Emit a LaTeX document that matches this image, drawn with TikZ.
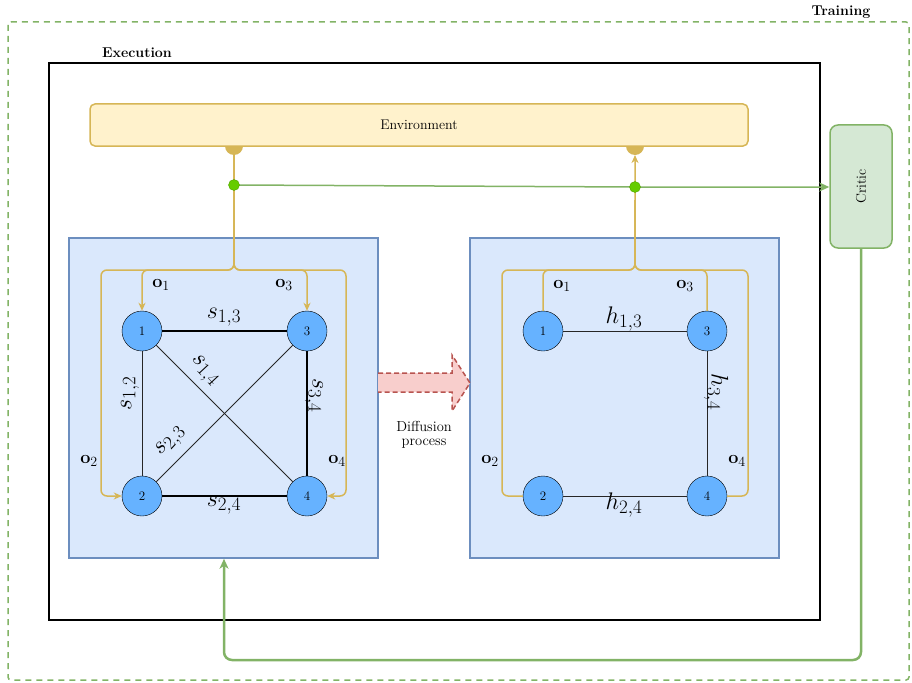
\documentclass[tikz,border=0pt]{standalone}
\usepackage{fix-cm}
\DeclareMathSizes{24}{24}{19}{15}
\DeclareMathSizes{18}{18}{14}{11}
\usetikzlibrary{arrows.meta}
\definecolor{envF}{HTML}{FFF2CC}
\definecolor{envD}{HTML}{D6B656}
\definecolor{boxF}{HTML}{DAE8FC}
\definecolor{boxD}{HTML}{6C8EBF}
\definecolor{nodeF}{HTML}{66B2FF}
\definecolor{grnF}{HTML}{D5E8D4}
\definecolor{grnD}{HTML}{82B366}
\definecolor{dotF}{HTML}{66CC00}
\definecolor{redF}{HTML}{F8CECC}
\definecolor{redD}{HTML}{B85450}
\tikzset{
  yel/.style={draw=envD, line width=1.5pt, rounded corners=6pt},
  ytip/.style={-{Stealth[length=8pt,width=7pt,inset=2.5pt]}},
  gtip/.style={-{Stealth[length=10pt,width=9pt,inset=3pt]}},
  agent/.style={circle, draw=black, fill=nodeF, minimum size=40pt, inner sep=0pt, font=\fontsize{13}{15}\selectfont},
  thinedge/.style={draw=black!85, line width=0.8pt},
  thickedge/.style={draw=black, line width=2.5pt},
  elab/.style={font=\fontsize{24}{28}\selectfont, inner sep=1pt},
  olab/.style={font=\fontsize{18}{21}\selectfont, inner sep=0pt},
  bluebox/.style={draw=boxD, fill=boxF, line width=1.5pt, minimum width=309pt, minimum height=320pt, inner sep=0pt},
  gdot/.style={circle, fill=dotF, draw=dotF!80!black, line width=0.4pt, minimum size=11pt, inner sep=0pt},
  titlelab/.style={font=\fontsize{14.2}{16}\selectfont\bfseries},
}
\begin{document}
\begin{tikzpicture}[x=1pt,y=-1pt]
\useasboundingbox (0,0) rectangle (912,682);
% Training
\draw[grnD, line width=1.5pt, dash pattern=on 6pt off 5pt, rounded corners=3pt] (8,22) rectangle (909,680);
\node[titlelab] (trainlab) at (841,12) {Training};
% Execution
\draw[black, line width=2pt] (49,63) rectangle (820,620);
\node[titlelab] (execlab) at (137,53) {Execution};
% Environment
\node[draw=envD, fill=envF, line width=1.5pt, rounded corners=5pt, minimum width=658pt, minimum height=42pt, inner sep=0pt, font=\fontsize{14}{16}\selectfont] (env) at (419,125) {Environment};
\fill[envD] (225,146) arc[start angle=180, end angle=0, radius=9];
\fill[envD] (626,146) arc[start angle=180, end angle=0, radius=9];
% Critic
\node[draw=grnD, fill=grnF, line width=1.5pt, rounded corners=8pt, minimum width=62pt, minimum height=123pt, inner sep=0pt, font=\fontsize{14}{16}\selectfont] (critic) at (861,186.5) {\rotatebox{90}{Critic}};
% Blue boxes
\node[bluebox] (lbox) at (223.5,398) {};
\node[bluebox] (rbox) at (624.5,398) {};
% Diffusion arrow
\draw[redD, fill=redF, line width=1.5pt, dash pattern=on 5pt off 3pt] (378,373) -- (452,373) -- (452,355) -- (470,383) -- (452,411) -- (452,392) -- (378,392);
\node[font=\fontsize{14.5}{14}\selectfont, align=center] (difflab) at (424,435) {Diffusion\\process};
% Left graph nodes
\node[agent] (L1) at (142,331) {1};
\node[agent] (L3) at (307,331) {3};
\node[agent] (L2) at (142,496) {2};
\node[agent] (L4) at (307,496) {4};
\draw[thickedge] (L1) -- (L3);
\draw[thickedge] (L2) -- (L4);
\draw[thickedge] (L3) -- (L4);
\draw[thinedge] (L1) -- (L2);
\draw[thinedge] (L1) -- (L4);
\draw[thinedge] (L2) -- (L3);
\node[elab] at (224,317) {$s_{1,3}$};
\node[elab] at (224,505) {$s_{2,4}$};
\node[elab, rotate=-90] at (314,396) {$s_{3,4}$};
\node[elab, rotate=90] at (130,393) {$s_{1,2}$};
\node[elab, rotate=-47] at (204,371) {$s_{1,4}$};
\node[elab, rotate=47] at (171,442) {$s_{2,3}$};
% Right graph nodes
\node[agent] (R1) at (543,331) {1};
\node[agent] (R3) at (707,331) {3};
\node[agent] (R2) at (543,496) {2};
\node[agent] (R4) at (707,496) {4};
\draw[thinedge] (R1) -- (R3);
\draw[thinedge] (R2) -- (R4);
\draw[thinedge] (R3) -- (R4);
\node[elab] at (624,319) {$h_{1,3}$};
\node[elab] at (624,505) {$h_{2,4}$};
\node[elab, rotate=-90] at (716,392) {$h_{3,4}$};
% Yellow observation lines (left)
\coordinate (jl) at (234,155);
\draw[yel, ytip] (jl) |- (101,270) |- (L2.west);
\draw[yel, ytip] (jl) |- (142,270) -- (L1.north);
\draw[yel, ytip] (jl) |- (307,270) -- (L3.north);
\draw[yel, ytip] (jl) |- (346,270) |- (L4.east);
\node[olab] at (161,285) {$\mathbf{o}_1$};
\node[olab] at (284,285) {$\mathbf{o}_3$};
\node[olab] at (89,461) {$\mathbf{o}_2$};
\node[olab] at (337,461) {$\mathbf{o}_4$};
% Yellow lines (right)
\coordinate (jr) at (635,155);
\coordinate (jr2) at (635,200);
\draw[yel, ytip] (R1.north) |- (635,270) -- (jr);
\draw[yel] (R3.north) |- (635,270) -- (jr2);
\draw[yel] (R2.west) -| (502,270) -| (jr2);
\draw[yel] (R4.east) -| (748,270) -| (jr2);
\node[olab] at (562,286) {$\mathbf{o}_1$};
\node[olab] at (685,286) {$\mathbf{o}_3$};
\node[olab] at (490,461) {$\mathbf{o}_2$};
\node[olab] at (737,461) {$\mathbf{o}_4$};
% Green lines
\coordinate (g1) at (234,185);
\coordinate (g2) at (635,187);
\draw[grnD, line width=1.5pt, gtip] (g1) -- (g2) -- (g2 -| critic.west);
\node[gdot] (d1) at (g1) {};
\node[gdot] (d2) at (g2) {};
\coordinate (fb) at (224,660);
\draw[grnD, line width=2.5pt, rounded corners=8pt, gtip] (critic.south) |- (fb) -- (fb |- lbox.south);
\end{tikzpicture}
\end{document}
